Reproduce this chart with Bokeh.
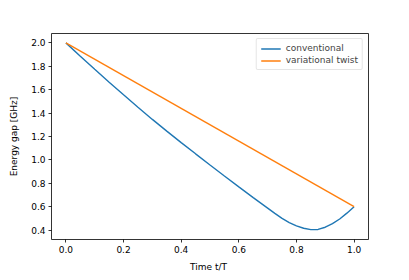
from bokeh.plotting import figure
from bokeh.models import Range1d, FixedTicker, PrintfTickFormatter, Legend, LegendItem
from bokeh.embed import file_html
from bokeh.resources import INLINE

# data
t_conv = [0.00, 0.05, 0.10, 0.15, 0.20, 0.25, 0.30, 0.35, 0.40, 0.45, 0.50,
          0.55, 0.60, 0.65, 0.70, 0.725, 0.75, 0.775, 0.80, 0.825, 0.85,
          0.875, 0.90, 0.925, 0.95, 0.975, 1.00]
gap_conv = [2.000, 1.886, 1.774, 1.664, 1.556, 1.450, 1.346, 1.246, 1.148,
            1.052, 0.957, 0.863, 0.770, 0.678, 0.588, 0.543, 0.500, 0.465,
            0.437, 0.416, 0.404, 0.406, 0.425, 0.455, 0.495, 0.545, 0.600]
t_var = [0.0, 1.0]
gap_var = [2.0, 0.6]
x_ticks = [0.0, 0.2, 0.4, 0.6, 0.8, 1.0]
y_ticks = [0.4, 0.6, 0.8, 1.0, 1.2, 1.4, 1.6, 1.8, 2.0]

FONT = "DejaVu Sans"

p = figure(width=401, height=274, output_backend="svg", toolbar_location=None,
           x_range=Range1d(-0.05, 1.05), y_range=Range1d(0.32, 2.08),
           min_border_left=51, min_border_right=33, min_border_top=33,
           min_border_bottom=34)
p.background_fill_color = "white"
p.border_fill_color = "white"
p.outline_line_color = "#000000"
p.outline_line_width = 0.8
p.grid.visible = False

for ax in (p.xaxis, p.yaxis):
    ax.axis_line_color = None
    ax.major_tick_line_color = "#000000"
    ax.major_tick_line_width = 0.8
    ax.major_tick_out = 3
    ax.major_tick_in = 0
    ax.minor_tick_line_color = None
    ax.major_label_text_font = FONT
    ax.major_label_text_font_size = "9px"
    ax.major_label_text_color = "#000000"
    ax.axis_label_text_font = FONT
    ax.axis_label_text_font_size = "9px"
    ax.axis_label_text_font_style = "normal"
    ax.axis_label_text_color = "#000000"
    ax.formatter = PrintfTickFormatter(format="%.1f")

p.xaxis.ticker = FixedTicker(ticks=x_ticks)
p.yaxis.ticker = FixedTicker(ticks=y_ticks)
p.xaxis.axis_label = "Time  t/T"
p.yaxis.axis_label = "Energy gap [GHz]"
p.xaxis.major_label_standoff = 3
p.yaxis.major_label_standoff = 3
p.xaxis.axis_label_standoff = 6
p.yaxis.axis_label_standoff = 9

r1 = p.line(t_conv, gap_conv, line_color="#1f77b4", line_width=1.4)
r2 = p.line(t_var, gap_var, line_color="#ff7f0e", line_width=1.4)

legend = Legend(items=[LegendItem(label="conventional", renderers=[r1]),
                       LegendItem(label="variational twist", renderers=[r2])],
                location="top_right")
legend.label_text_font = FONT
legend.label_text_font_size = "9px"
legend.label_height = 9
legend.glyph_height = 9
legend.glyph_width = 20
legend.label_standoff = 5
legend.spacing = 2
legend.padding = 4
legend.margin = 5
legend.border_line_color = "#cccccc"
legend.border_line_width = 0.8
legend.border_radius = 2
legend.background_fill_alpha = 0.8
p.add_layout(legend)

open("out.html", "w").write(file_html(p, INLINE))
